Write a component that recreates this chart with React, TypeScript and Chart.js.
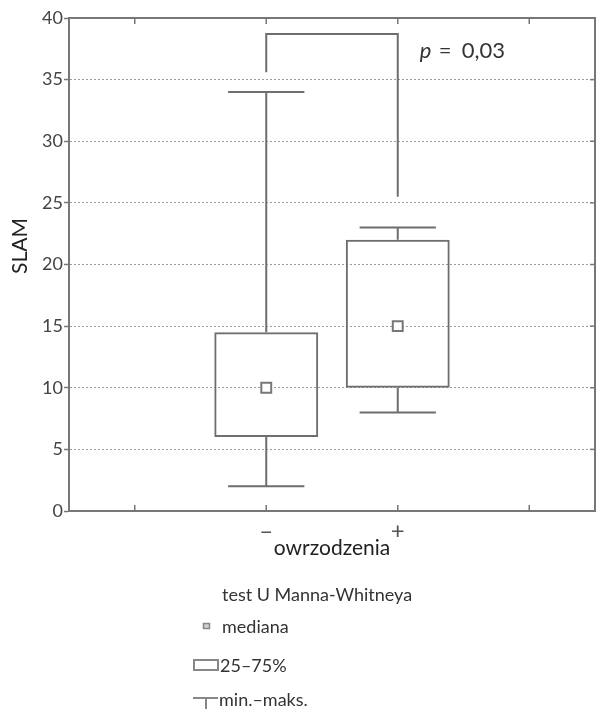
import React, { useEffect, useRef } from 'react';
import { Chart, registerables } from 'chart.js';

Chart.register(...registerables);

// ---- data ----
const categories = ['', '–', '+', ''];
const q1Values: (number | null)[] = [null, 6, 10, null];
const q3Values: (number | null)[] = [null, 14.5, 22, null];
const medianValues: (number | null)[] = [null, 10, 15, null];
const minValues: (number | null)[] = [null, 2, 8, null];
const maxValues: (number | null)[] = [null, 34, 23, null];
const yTickValues = [0, 5, 10, 15, 20, 25, 30, 35, 40];
const bracketLevels = { top: 38.7, leftEnd: 35.6, rightEnd: 25.5 };
const bracketCats = [1, 2];
const pParts = ['p', '=', '0,03'];
const yTitle = 'SLAM';
const xTitle = 'owrzodzenia';
const legendTitle = 'test U Manna-Whitneya';
const legendItems = ['mediana', '25–75%', 'min.–maks.'];

const LINE = '#6e6e6e';
const FONT = 'Lato, "Open Sans", sans-serif';

const overlayPlugin = {
  id: 'overlay',
  afterDraw(chart: any) {
    const { ctx, chartArea: a, scales } = chart;
    const xs = scales.x;
    const ys = scales.y;
    ctx.save();
    // frame
    ctx.strokeStyle = '#777';
    ctx.lineWidth = 2;
    ctx.strokeRect(a.left, a.top, a.right - a.left, a.bottom - a.top);
    // inner ticks
    ctx.lineWidth = 1.5;
    for (let i = 0; i < categories.length; i++) {
      const x = xs.getPixelForValue(i);
      ctx.beginPath();
      ctx.moveTo(x, a.top); ctx.lineTo(x, a.top + 6);
      ctx.moveTo(x, a.bottom); ctx.lineTo(x, a.bottom - 6);
      ctx.stroke();
    }
    for (const v of yTickValues) {
      const y = ys.getPixelForValue(v);
      ctx.beginPath();
      ctx.moveTo(a.right, y); ctx.lineTo(a.right - 5, y);
      ctx.stroke();
    }
    // whiskers
    const slot = xs.getPixelForValue(1) - xs.getPixelForValue(0);
    const capHalf = slot * 0.29;
    ctx.strokeStyle = LINE;
    ctx.lineWidth = 2;
    for (let i = 0; i < categories.length; i++) {
      if (minValues[i] == null) continue;
      const x = xs.getPixelForValue(i);
      const yMin = ys.getPixelForValue(minValues[i]);
      const yMax = ys.getPixelForValue(maxValues[i]);
      const yQ1 = ys.getPixelForValue(q1Values[i]);
      const yQ3 = ys.getPixelForValue(q3Values[i]);
      ctx.beginPath();
      ctx.moveTo(x, yQ3); ctx.lineTo(x, yMax);
      ctx.moveTo(x - capHalf, yMax); ctx.lineTo(x + capHalf, yMax);
      ctx.moveTo(x, yQ1); ctx.lineTo(x, yMin);
      ctx.moveTo(x - capHalf, yMin); ctx.lineTo(x + capHalf, yMin);
      ctx.stroke();
    }
    // bracket
    const bx1 = xs.getPixelForValue(bracketCats[0]);
    const bx2 = xs.getPixelForValue(bracketCats[1]);
    const byTop = ys.getPixelForValue(bracketLevels.top);
    ctx.beginPath();
    ctx.moveTo(bx1, ys.getPixelForValue(bracketLevels.leftEnd));
    ctx.lineTo(bx1, byTop);
    ctx.lineTo(bx2, byTop);
    ctx.lineTo(bx2, ys.getPixelForValue(bracketLevels.rightEnd));
    ctx.stroke();
    // p text
    ctx.fillStyle = '#333';
    ctx.textBaseline = 'middle';
    ctx.textAlign = 'left';
    const px = bx2 + 22;
    const py = ys.getPixelForValue(37.3);
    ctx.font = `italic 22px ${FONT}`;
    ctx.fillText(pParts[0], px, py);
    ctx.font = `22px ${FONT}`;
    ctx.fillText(pParts[1], px + 19, py);
    ctx.fillText(pParts[2], px + 42, py);
    // y title
    ctx.save();
    ctx.translate(20, 246);
    ctx.rotate(-Math.PI / 2);
    ctx.textAlign = 'center';
    ctx.fillStyle = '#222';
    ctx.font = `21px ${FONT}`;
    ctx.fillText(yTitle, 0, 0);
    ctx.restore();
    // legend
    ctx.font = `18px ${FONT}`;
    ctx.fillStyle = '#333';
    ctx.fillText(legendTitle, 222, 595);
    // median icon
    ctx.fillStyle = '#d0d0d0';
    ctx.fillRect(203.5, 623.5, 6, 5);
    ctx.strokeStyle = '#888';
    ctx.lineWidth = 1.5;
    ctx.strokeRect(203.5, 623.5, 6, 5);
    ctx.fillStyle = '#333';
    ctx.fillText(legendItems[0], 222, 627);
    // box icon
    ctx.strokeStyle = '#888';
    ctx.lineWidth = 2;
    ctx.strokeRect(194, 660, 24, 10);
    ctx.fillText(legendItems[1], 220, 666);
    // whisker icon
    ctx.beginPath();
    ctx.moveTo(193, 698); ctx.lineTo(218, 698);
    ctx.moveTo(206, 698); ctx.lineTo(206, 709);
    ctx.stroke();
    ctx.fillText(legendItems[2], 219, 700);
    ctx.restore();
  },
};

export default function App() {
  const ref = useRef<HTMLCanvasElement>(null);
  useEffect(() => {
    document.body.style.margin = '0';
    const canvas = ref.current!;
    const chart = new Chart(canvas, {
      type: 'bar',
      data: {
        labels: categories,
        datasets: [
          {
            type: 'bar',
            label: '25–75%',
            data: categories.map((_, i) =>
              q1Values[i] == null ? null : [q1Values[i], q3Values[i]]
            ) as any,
            backgroundColor: 'rgba(255,255,255,0)',
            borderColor: LINE,
            borderWidth: 2,
            borderSkipped: false,
            barPercentage: 0.79,
            categoryPercentage: 1,
          },
          {
            type: 'line',
            label: 'mediana',
            data: medianValues as any,
            showLine: false,
            pointStyle: 'rect',
            pointRadius: 7,
            pointHoverRadius: 7,
            pointBackgroundColor: '#fff',
            pointBorderColor: '#777',
            pointBorderWidth: 2,
          },
        ],
      },
      options: {
        responsive: false,
        animation: false,
        events: [],
        layout: { autoPadding: false, padding: { top: 18, right: 2, bottom: 138, left: 0 } },
        plugins: { legend: { display: false }, tooltip: { enabled: false } },
        scales: {
          x: {
            type: 'category',
            offset: true,
            grid: { display: false, drawTicks: false, drawOnChartArea: false },
            border: { display: true, color: '#777', width: 2 },
            ticks: {
              font: { family: FONT, size: 24 },
              color: '#555',
              padding: 6,
              maxRotation: 0,
              autoSkip: false,
            },
            title: {
              display: true,
              text: xTitle,
              font: { family: FONT, size: 21 },
              color: '#222',
              padding: { top: 0, bottom: 10 },
            },
            afterFit: (s: any) => {
              s.height = 60;
              s.paddingLeft = 0;
              s.paddingRight = 0;
            },
          },
          y: {
            min: 0,
            max: 40,
            afterBuildTicks: (s: any) => { s.ticks = yTickValues.map((v) => ({ value: v })); },
            ticks: {
              font: { family: FONT, size: 18 },
              color: '#444',
              padding: 1,
            },
            grid: {
              color: '#9a9a9a',
              lineWidth: 1,
              tickLength: 5,
              tickColor: '#777',
              tickWidth: 1.5,
            },
            border: { display: true, color: '#777', width: 2, dash: [2, 2] },
            afterFit: (s: any) => {
              s.width = 69;
              s.paddingTop = 0;
              s.paddingBottom = 0;
            },
          },
        },
      },
      plugins: [overlayPlugin],
    });
    return () => chart.destroy();
  }, []);
  return (
    <div style={{ width: 597, height: 709 }}>
      <canvas ref={ref} width={597} height={709} style={{ display: 'block' }} />
    </div>
  );
}
